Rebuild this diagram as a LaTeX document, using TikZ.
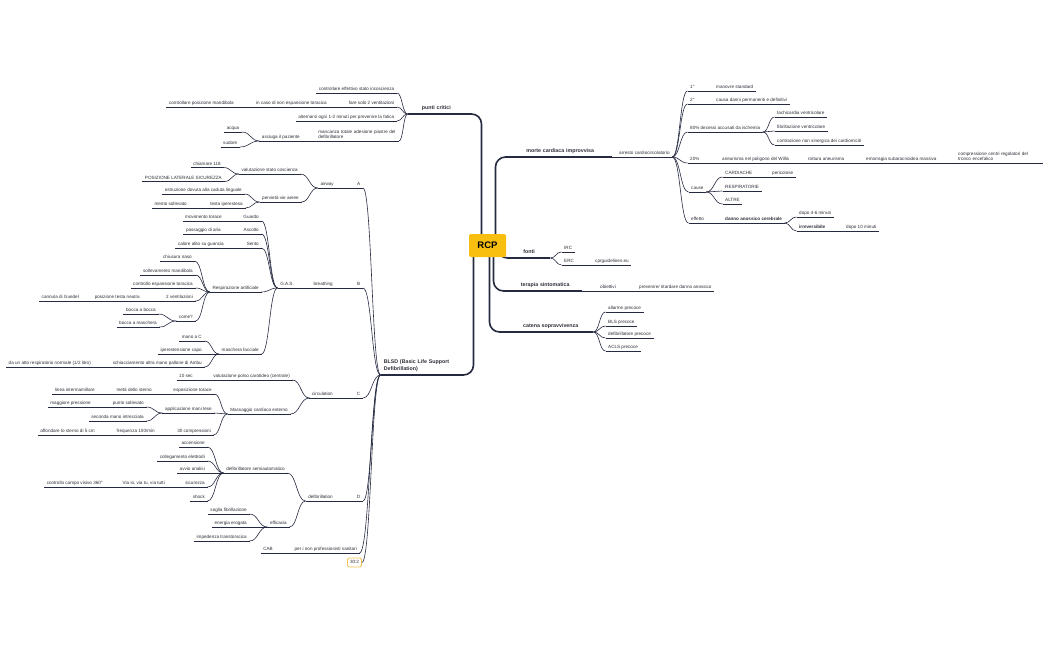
\documentclass[tikz,border=0pt]{standalone}
\usepackage{fontspec}
\setmainfont{Liberation Sans}
\usetikzlibrary{calc,backgrounds}
\definecolor{linec}{HTML}{262A40}
\definecolor{txt}{HTML}{2E2E38}
\definecolor{rcpc}{HTML}{F9BF10}
\definecolor{boxc}{HTML}{F5C451}

\begin{document}
\begin{tikzpicture}[x=1pt,y=-1pt,
  t/.style={font=\fontsize{4.6}{5.5}\selectfont,text=txt,inner xsep=2.5pt,inner ysep=1pt,text depth=1.2pt},
  r/.style={t,anchor=south west},
  l/.style={t,anchor=south east},
  multi/.style={text depth=,inner ysep=2.2pt,align=left},
  topic/.style={font=\bfseries\fontsize{5.3}{7}\selectfont,text=txt,inner xsep=3pt,inner ysep=3pt,text depth=1.5pt,align=center},
  ul/.style={draw=linec,line width=0.6pt},
  ulmain/.style={draw=linec,line width=1.3pt},
  conn/.style={draw=linec,line width=0.6pt,to path={.. controls ($(\tikztostart)!0.5!(\tikztotarget|-\tikztostart)$) and ($(\tikztotarget)!0.5!(\tikztostart|-\tikztotarget)$) .. (\tikztotarget)}},
  main/.style={draw=linec,line width=1.6pt,rounded corners=10pt}]
\useasboundingbox (0,0) rectangle (1050,650);

% centre
\node[fill=rcpc,rounded corners=2pt,minimum width=37pt,minimum height=23pt,font=\bfseries\fontsize{9.5}{11}\selectfont] (rcp) at (487.5,245.5) {RCP};

% main topics
\node[topic,anchor=south east,text width=51pt] (pc) at (465,114) {punti critici};
\node[topic,anchor=south east,text width=75pt,align=left,text depth=,inner ysep=3.2pt] (bl) at (462,375) {BLSD (Basic Life Support\\Defibrillation)};
\node[topic,anchor=south west,text width=98pt] (mor) at (508,157) {morte cardiaca improvvisa};
\node[topic,anchor=south west,text width=36pt] (fon) at (508,258) {fonti};
\node[topic,anchor=south west,text width=68pt] (ter) at (508,291) {terapia sintomatica};
\node[topic,anchor=south west,text width=79pt] (cat) at (508,332) {catena sopravvivenza};

% morte cardiaca improvvisa
\node[r] (arr) at (616.5,157) {arresto cardiocircolatorio};
\node[r] (p1) at (687.5,91) {1°};
\node[r] (ms) at (713.5,91) {manovre standard};
\node[r] (p2) at (687.5,104) {2°};
\node[r] (cd) at (713.5,104) {causa danni permanenti e definitivi};
\node[r] (p80) at (687.5,132) {80\% decessi accusati da ischemia};
\node[r] (tv) at (774.5,117) {tachicardia ventricolare};
\node[r] (fv) at (774.5,131) {fibrillazione ventricolare};
\node[r] (cn) at (774.5,145) {contrazione non sinergica dei cardiomiciti};
\node[r] (p20) at (687.5,163) {20\%};
\node[r] (an) at (719.5,163) {aneurisma nel poligono del Willis};
\node[r] (ra) at (805.5,163) {rottura aneurisma};
\node[r] (es) at (863.5,163) {emorragia subaracnoidea massiva};
\node[r,multi,text width=82pt] (cc) at (955.5,163) {compressione centri regolatori del tronco encefalico};
\node[r] (cau) at (688.5,192) {cause};
\node[r] (car) at (722.5,177) {CARDIACHE};
\node[r] (per) at (769.5,177) {pericolose};
\node[r] (res) at (722.5,191) {RESPIRATORIE};
\node[r] (alt) at (722.5,204) {ALTRE};
\node[r] (eff) at (688.5,223) {effetto};
\node[r,font=\bfseries\fontsize{4.6}{5.5}\selectfont] (dan) at (722.5,223) {danno anossico cerebrale};
\node[r] (d46) at (796.5,217) {dopo 4-6 minuti};
\node[r,font=\bfseries\fontsize{4.6}{5.5}\selectfont] (irr) at (796.5,231) {irreversibile};
\node[r] (d10) at (843.5,231) {dopo 10 minuti};

% fonti, terapia, catena
\node[r] (irc) at (561.5,252) {IRC};
\node[r] (erc) at (561.5,265) {ERC};
\node[r] (cpr) at (592.5,265) {cprguidelines.eu};
\node[r] (obi) at (597.5,291) {obiettivi};
\node[r] (pre) at (636.5,291) {prevenire/ ritardare danno anossico};
\node[r] (all) at (605.5,312) {allarme precoce};
\node[r] (bls) at (605.5,326) {BLS precoce};
\node[r] (dfp) at (605.5,338) {defibrillatore precoce};
\node[r] (acl) at (605.5,351) {ACLS precoce};

% punti critici
\node[l] (ce) at (397,93) {controllare effettivo stato incoscienza};
\node[l] (fs) at (397,107) {fare solo 2 ventilazioni};
\node[l] (ic) at (329.5,107) {in caso di non espansione toracica};
\node[l] (cm) at (236.5,107) {controllare posizione mandibola};
\node[l] (al) at (397,121) {alternarsi ogni 1-2 minuti per prevenire la fatica};
\node[l,multi,text width=78pt] (mt) at (399,141) {mancanza totale adesione piastre del defibrillatore};
\node[l] (as) at (302.5,141) {asciuga il paziente};
\node[l] (ac) at (242,132) {acqua};
\node[l] (su) at (240,147) {sudore};

% A
\node[l] (nA) at (363,188) {A};
\node[l] (aw) at (336.5,188) {airway};
\node[l] (vs) at (300.5,174) {valutazione stato coscienza};
\node[l] (c118) at (223.5,167.5) {chiamare 118};
\node[l] (plat) at (224.5,181.5) {POSIZIONE LATERALE SICUREZZA};
\node[l] (pv) at (301.5,202) {pervietà vie aeree};
\node[l] (oc) at (244.5,194) {ostruzione dovuta alla caduta linguale};
\node[l] (te) at (245.5,208) {testa iperestesa};
\node[l] (ms2) at (189.5,208) {mento sollevato};

% B
\node[l] (nB) at (363,288) {B};
\node[l] (br) at (335.5,288) {breathing};
\node[l] (gas) at (296.5,288) {G.A.S.};
\node[l] (gu) at (261.5,221) {Guardo};
\node[l] (mt2) at (224.5,221) {movimento torace};
\node[l] (asc) at (261.5,234) {Ascolto};
\node[l] (pa) at (223.5,234) {passaggio di aria};
\node[l] (se) at (261.5,248) {Sento};
\node[l] (ca) at (226.5,248) {calore alito su guancia};
\node[l] (ra2) at (261.5,292) {Respirazione artificiale};
\node[l] (cn2) at (194.5,261) {chiusura naso};
\node[l] (sm) at (195.5,275) {sollevamento mandibola};
\node[l] (ce2) at (195.5,288) {controllo espansione toracica};
\node[l] (v2) at (195.5,301) {2 ventilazioni};
\node[l] (pt) at (142.5,301) {posizione testa neutra};
\node[l] (cg) at (81.5,301) {cannula di Guedel};
\node[l] (co) at (195.5,321) {come?};
\node[l] (bb) at (158.5,314) {bocca a bocca};
\node[l] (bm) at (159.5,327) {bocca a maschera};
\node[l] (mf) at (261.5,354) {maschera facciale};
\node[l] (mc) at (204.5,341) {mano a C};
\node[l] (ic2) at (204.5,354) {iperestensione capo};
\node[l] (sc) at (204.5,367) {schiacciamento altra mano pallone di Ambu};
\node[l] (ar) at (93.5,367) {da un atto respiratorio normale (1/2 litro)};

% C
\node[l] (nC) at (363,398) {C};
\node[l] (ci) at (335.5,398) {circulation};
\node[l] (vp) at (292.5,380) {valutazione polso carotideo (centrale)};
\node[l] (s10) at (195.5,380) {10 sec};
\node[l] (mce) at (290.5,414) {Massaggio cardiaco esterno};
\node[l] (et) at (214.5,394) {esposizione torace};
\node[l] (ms3) at (154.5,394) {metà dello sterno};
\node[l] (li) at (97.5,394) {linea intermamillare};
\node[l] (am) at (214.5,413) {applicazione mani tese};
\node[l] (ps) at (146.5,407) {punto sollevato};
\node[l] (mp) at (93.5,407) {maggiore pressione};
\node[l] (sm2) at (146.5,421) {seconda mano intrecciata};
\node[l] (c30) at (213.5,435) {30 compressioni};
\node[l] (fr) at (157.5,435) {frequenza 100/min};
\node[l] (af) at (97.5,435) {affondare lo sterno di 5 cm};

% D
\node[l] (nD) at (363,501) {D};
\node[l] (de) at (335.5,501) {defibrillation};
\node[l] (ds) at (287.5,473) {defibrillatore semiautomatico};
\node[l] (acc) at (207.5,447) {accensione};
\node[l] (ce3) at (207.5,461) {collegamento elettrodi};
\node[l] (avv) at (207.5,473) {avvio analisi};
\node[l] (sic) at (207.5,487) {sicurezza};
\node[l] (vi) at (167.5,487) {Via io, via tu, via tutti};
\node[l] (ccv) at (105.5,487) {controllo campo visivo 360°};
\node[l] (sho) at (207.5,501) {shock};
\node[l] (ef) at (289.5,527) {efficacia};
\node[l] (sf) at (249.5,514) {soglia fibrillazione};
\node[l] (ee) at (249.5,527) {energia erogata};
\node[l] (it) at (249.5,541) {impedenza transtoracica};
\node[l] (cab) at (359.5,553) {per i non professionisti sanitari};
\node[l] (cab2) at (275.5,553) {CAB};
\node[t,draw=boxc,line width=0.8pt,rounded corners=1.5pt,fill=white,minimum width=13pt,minimum height=9pt] (t302) at (354.5,562.5) {30:2};

% underlines
\foreach \n in {pc,bl,mor,fon,ter,cat}
  \draw[ulmain] (\n.south west) -- (\n.south east);
\foreach \n in {arr,p1,ms,p2,cd,p80,tv,fv,cn,p20,an,ra,es,cc,cau,car,per,res,alt,eff,dan,d46,irr,d10,
    irc,erc,cpr,obi,pre,all,bls,dfp,acl,ce,fs,ic,cm,al,mt,as,ac,su,
    nA,aw,vs,c118,plat,pv,oc,te,ms2,nB,br,gas,gu,mt2,asc,pa,se,ca,ra2,cn2,sm,ce2,v2,pt,cg,co,bb,bm,mf,mc,ic2,sc,ar,
    nC,ci,vp,s10,mce,et,ms3,li,am,ps,mp,sm2,c30,fr,af,nD,de,ds,acc,ce3,avv,sic,vi,ccv,sho,ef,sf,ee,it,cab,cab2}
  \draw[ul] (\n.south west) -- (\n.south east);

% right side branches
\foreach \a/\b in {mor/arr,arr/p1,arr/p2,arr/p80,arr/p20,arr/cau,arr/eff,p1/ms,p2/cd,p80/tv,p80/fv,p80/cn,
    p20/an,an/ra,ra/es,es/cc,cau/car,cau/res,cau/alt,car/per,eff/dan,dan/d46,dan/irr,irr/d10,
    fon/irc,fon/erc,erc/cpr,ter/obi,obi/pre,cat/all,cat/bls,cat/dfp,cat/acl}
  \draw[conn] (\a.south east) to (\b.south west);

% left side branches
\foreach \a/\b in {pc/ce,pc/fs,pc/al,pc/mt,fs/ic,ic/cm,mt/as,as/ac,as/su,
    bl/nA,bl/nB,bl/nC,bl/nD,bl/cab,nA/aw,aw/vs,aw/pv,vs/c118,vs/plat,pv/oc,pv/te,te/ms2,
    nB/br,br/gas,gas/gu,gas/asc,gas/se,gas/ra2,gas/mf,gu/mt2,asc/pa,se/ca,ra2/cn2,ra2/sm,ra2/ce2,ra2/v2,ra2/co,
    v2/pt,pt/cg,co/bb,co/bm,mf/mc,mf/ic2,mf/sc,sc/ar,
    nC/ci,ci/vp,ci/mce,vp/s10,mce/et,mce/am,mce/c30,et/ms3,ms3/li,am/ps,am/sm2,ps/mp,c30/fr,fr/af,
    nD/de,de/ds,de/ef,ds/acc,ds/ce3,ds/avv,ds/sic,ds/sho,sic/vi,vi/ccv,ef/sf,ef/ee,ef/it,cab/cab2}
  \draw[conn] (\a.south west) to (\b.south east);
\draw[conn] (bl.south west) to (t302.east);

% from the centre
\begin{scope}[on background layer]
  \draw[main] ([xshift=-6pt]rcp.center) |- (pc.south east);
  \draw[main] ([xshift=8pt]rcp.center) |- (mor.south west);
  \draw[main] ([xshift=10pt]rcp.center) |- (fon.south west);
  \draw[main] ([xshift=6pt]rcp.center) |- (ter.south west);
  \draw[main] ([xshift=2pt]rcp.center) |- (cat.south west);
  \draw[main] ([xshift=-14pt]rcp.center) |- (bl.south east);
\end{scope}
\end{tikzpicture}
\end{document}
